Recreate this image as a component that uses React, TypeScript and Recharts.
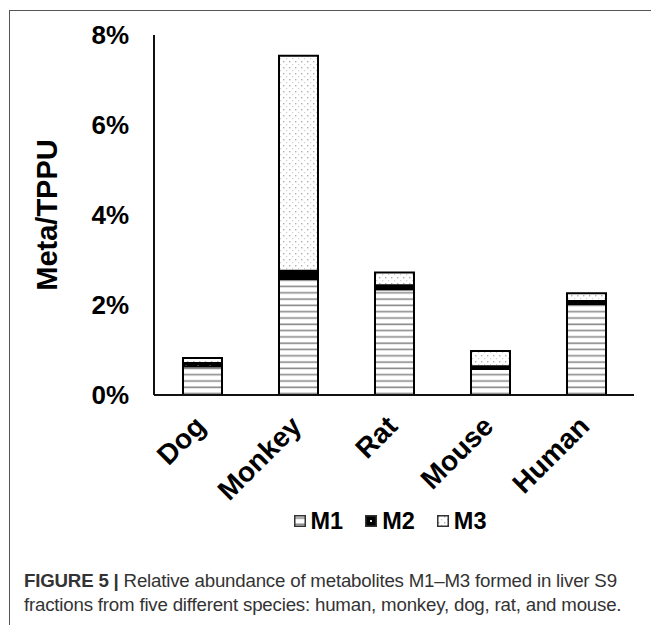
import { BarChart, Bar, XAxis, YAxis, Legend } from 'recharts';

// relative abundance (fraction of TPPU)
const species = ['Dog', 'Monkey', 'Rat', 'Mouse', 'Human'];
const m1Values = [0.0064, 0.0258, 0.0235, 0.0058, 0.0202];
const m2Values = [0.0007, 0.0018, 0.0009, 0.0006, 0.0007];
const m3Values = [0.0011, 0.0478, 0.0028, 0.0034, 0.0017];
const yTicks = [0, 0.02, 0.04, 0.06, 0.08];
const seriesNames = ['M1', 'M2', 'M3'];

const FONT = '"Liberation Sans", Arial, Helvetica, sans-serif';
const FILLS: Record<string, string> = { M1: 'url(#pat-m1)', M2: 'url(#pat-m2)', M3: 'url(#pat-m3)' };

const data = species.map((name, i) => ({
  name,
  M1: m1Values[i],
  M2: m2Values[i],
  M3: m3Values[i],
}));

function Patterns() {
  return (
    <svg width={0} height={0} style={{ position: 'absolute' }}>
      <defs>
        <pattern id="pat-m1" width={6} height={6.3} patternUnits="userSpaceOnUse">
          <rect width={6} height={6.3} fill="#fff" />
          <line x1={0} x2={6} y1={3} y2={3} stroke="#8a8a8a" strokeWidth={1.6} />
        </pattern>
        <pattern id="pat-m2" width={12} height={12} patternUnits="userSpaceOnUse">
          <rect width={12} height={12} fill="#000" />
          <rect x={5} y={5} width={2} height={2} fill="#ddd" />
        </pattern>
        <pattern id="pat-m3" width={6} height={6} patternUnits="userSpaceOnUse">
          <rect width={6} height={6} fill="#fff" />
          <rect x={1} y={1} width={1.4} height={1.4} fill="#b0b0b0" />
          <rect x={4} y={4} width={1.2} height={1.2} fill="#cfcfcf" />
        </pattern>
      </defs>
    </svg>
  );
}

function SpeciesTick(props: any) {
  const { x, y, payload } = props;
  const ax = x + 5;
  const ay = y + 33;
  return (
    <text
      x={ax}
      y={ay}
      textAnchor="end"
      transform={`rotate(-45 ${ax} ${ay})`}
      fontFamily={FONT}
      fontWeight="bold"
      fontSize={28}
      fill="#000"
    >
      {payload.value}
    </text>
  );
}

function YLabel(props: any) {
  const { viewBox } = props;
  const cx = viewBox.x + 47;
  const cy = viewBox.y + viewBox.height / 2;
  return (
    <text
      x={cx}
      y={cy}
      textAnchor="middle"
      dominantBaseline="central"
      transform={`rotate(-90 ${cx} ${cy})`}
      fontFamily={FONT}
      fontWeight="bold"
      fontSize={29}
      fill="#000"
    >
      Meta/TPPU
    </text>
  );
}

function LegendContent() {
  return (
    <div style={{ height: 20, display: 'flex', justifyContent: 'center', alignItems: 'center', gap: 22 }}>
      {seriesNames.map((s) => (
        <div key={s} style={{ display: 'flex', alignItems: 'center', gap: 5 }}>
          <svg width={12} height={12}>
            <rect x={0.75} y={0.75} width={10.5} height={10.5} fill={FILLS[s]} stroke="#333" strokeWidth={1.5} />
          </svg>
          <span style={{ fontFamily: FONT, fontWeight: 'bold', fontSize: 23.5, lineHeight: '20px', color: '#000' }}>{s}</span>
        </div>
      ))}
    </div>
  );
}

export default function App() {
  return (
    <div style={{ position: 'absolute', left: 0, top: 0, width: 651, height: 625, background: '#fff', overflow: 'hidden' }}>
      <Patterns />
      <div
        style={{
          position: 'absolute',
          left: 9,
          top: 10,
          right: 0,
          bottom: 0,
          borderTop: '1.5px solid #555',
          borderLeft: '1.5px solid #555',
        }}
      />
      <div style={{ position: 'absolute', left: 0, top: 0 }}>
        <BarChart
          width={651}
          height={545}
          data={data}
          margin={{ top: 35, right: 17, bottom: 14, left: 0 }}
          barSize={39}
        >
          <XAxis
            dataKey="name"
            height={116}
            tickSize={0}
            tickMargin={0}
            tick={<SpeciesTick />}
            axisLine={{ stroke: '#111', strokeWidth: 2 }}
            interval={0}
          />
          <YAxis
            width={154}
            domain={[0, 0.08]}
            ticks={yTicks}
            tickFormatter={(v: number) => `${Math.round(v * 100)}%`}
            tickSize={0}
            tickMargin={25}
            tick={{ fontFamily: FONT, fontWeight: 'bold', fontSize: 26, fill: '#000' }}
            axisLine={{ stroke: '#111', strokeWidth: 2 }}
            label={<YLabel />}
          />
          <Legend
            verticalAlign="bottom"
            content={<LegendContent />}
            wrapperStyle={{ left: 150, width: 480 }}
          />
          {seriesNames.map((s) => (
            <Bar
              key={s}
              dataKey={s}
              stackId="a"
              fill={FILLS[s]}
              stroke="#000"
              strokeWidth={2}
              isAnimationActive={false}
            />
          ))}
        </BarChart>
      </div>
      <div
        style={{
          position: 'absolute',
          left: 24,
          top: 569,
          width: 625,
          fontFamily: FONT,
          fontSize: 18.7,
          lineHeight: '24px',
          color: '#333',
          letterSpacing: -0.2,
          whiteSpace: 'nowrap',
        }}
      >
        <b>FIGURE 5 |</b> Relative abundance of metabolites M1–M3 formed in liver S9
        <br />
        fractions from five different species: human, monkey, dog, rat, and mouse.
      </div>
    </div>
  );
}
